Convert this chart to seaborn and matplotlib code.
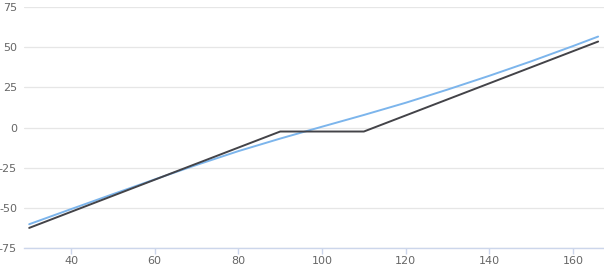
import matplotlib
matplotlib.use("Agg")
import matplotlib.pyplot as plt
import seaborn as sns
import pandas as pd

# Data
blue_x = [30, 40, 50, 60, 70, 80, 90, 100, 110, 120, 130, 140, 150, 160, 166]
blue_y = [-60.2, -50.8, -41.5, -32.3, -23.3, -14.7, -6.9, 0.5, 7.8, 15.4, 23.6, 32.2, 41.2, 50.7, 56.6]
black_x = [30, 90, 110, 166]
black_y = [-62.5, -2.5, -2.5, 53.5]
x_ticks = [40, 60, 80, 100, 120, 140, 160]
y_ticks = [-75, -50, -25, 0, 25, 50, 75]

df = pd.concat([
    pd.DataFrame({"x": blue_x, "y": blue_y, "series": "Value"}),
    pd.DataFrame({"x": black_x, "y": black_y, "series": "Payoff"}),
])

sns.set_style("white")
plt.rcParams["font.family"] = ["DejaVu Sans"]
plt.rcParams["axes.unicode_minus"] = False

fig = plt.figure(figsize=(6.04, 2.70), dpi=100)
ax = fig.add_axes([24 / 604, 22 / 270, 580 / 604, 241 / 270])

sns.lineplot(data=df, x="x", y="y", hue="series", sort=False,
             palette={"Value": "#7cb5ec", "Payoff": "#434348"},
             linewidth=1.4, ax=ax, legend=False, estimator=None)

ax.set_xlim(28.76, 167.4)
ax.set_ylim(-75, 75)
ax.set_xticks(x_ticks)
ax.set_yticks(y_ticks)
ax.set_xlabel("")
ax.set_ylabel("")
ax.grid(axis="y", color="#e6e6e6", linewidth=0.9)
ax.grid(axis="x", visible=False)
ax.set_axisbelow(True)
for s in ["top", "right", "left"]:
    ax.spines[s].set_visible(False)
ax.spines["bottom"].set_color("#ccd6eb")
ax.spines["bottom"].set_linewidth(1)
ax.tick_params(axis="x", length=4.5, color="#ccd6eb", width=1, labelsize=8, labelcolor="#666666", pad=1.5, bottom=True)
ax.tick_params(axis="y", length=0, labelsize=8, labelcolor="#666666", pad=5, left=False)

fig.savefig("out.png", dpi=100)
